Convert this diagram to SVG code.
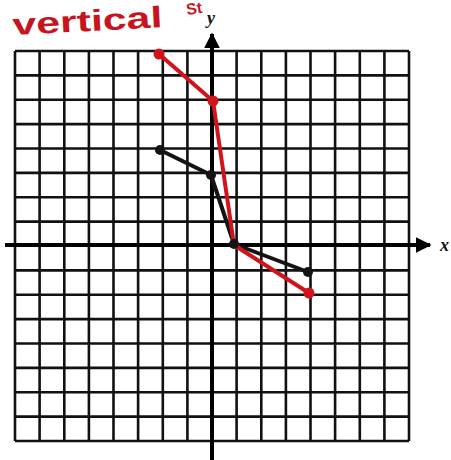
<svg xmlns="http://www.w3.org/2000/svg" width="451" height="460" viewBox="0 0 451 460">
<style>
.grid{stroke:#111;stroke-width:2.6;fill:none}
.axis{stroke:#000;stroke-width:4;fill:none}
.red{stroke:#d0141e;stroke-width:4;fill:none;stroke-linejoin:round;stroke-linecap:round}
.blk{stroke:#141414;stroke-width:4;fill:none;stroke-linejoin:round;stroke-linecap:round}
.rdot{fill:#d0141e}
.bdot{fill:#141414}
.hand{font-family:"Liberation Sans",sans-serif;font-weight:bold;fill:#c8141e}
.lbl{font-family:"Liberation Serif",serif;font-weight:bold;font-style:italic;fill:#111}
</style>
<defs>
<marker id="ah" viewBox="0 0 10 10" refX="9" refY="5" markerWidth="4" markerHeight="4" orient="auto">
<path d="M0,0 L10,5 L0,10 z" fill="#000"/>
</marker>
</defs>
<rect width="451" height="460" fill="#fff"/>
<g id="title">
<text class="hand" x="13" y="35" font-size="30" textLength="150" lengthAdjust="spacingAndGlyphs" transform="rotate(-3 13 35)">vertical</text>
<text class="hand" x="187" y="15" font-size="16" transform="rotate(-8 187 15)">St</text>
</g>
<g id="grid">
<path class="grid" d="M15,51V441 M39.6,51V441 M64.3,51V441 M88.9,51V441 M113.5,51V441 M138.1,51V441 M162.8,51V441 M187.4,51V441 M236.6,51V441 M261.3,51V441 M285.9,51V441 M310.5,51V441 M335.1,51V441 M359.8,51V441 M384.4,51V441 M409,51V441"/>
<path class="grid" d="M15,51H409 M15,75.4H409 M15,99.8H409 M15,124.1H409 M15,148.5H409 M15,172.9H409 M15,197.3H409 M15,221.6H409 M15,270.4H409 M15,294.8H409 M15,319.1H409 M15,343.5H409 M15,367.9H409 M15,392.3H409 M15,416.6H409 M15,441H409"/>
</g>
<g id="axes">
<line class="axis" x1="212" y1="460" x2="212" y2="34" marker-end="url(#ah)"/>
<line class="axis" x1="5" y1="245" x2="430" y2="245" marker-end="url(#ah)"/>
<text class="lbl" x="207" y="24" font-size="18">y</text>
<text class="lbl" x="440" y="251" font-size="18">x</text>
</g>
<g id="connectors">
<polyline class="blk" points="160,150 211,175 234,244 308,272"/>
<polyline class="red" points="159,54 213,101 234,245 309,293"/>
</g>
<g id="black-points">
<circle class="bdot" cx="160" cy="150" r="5"/>
<circle class="bdot" cx="211" cy="175" r="5"/>
<circle class="bdot" cx="234" cy="244" r="5"/>
<circle class="bdot" cx="308" cy="272" r="5"/>
</g>
<g id="red-points">
<circle class="rdot" cx="159" cy="54" r="5.5"/>
<circle class="rdot" cx="213" cy="101" r="5.5"/>
<circle class="rdot" cx="309" cy="293" r="5.5"/>
</g>
</svg>
